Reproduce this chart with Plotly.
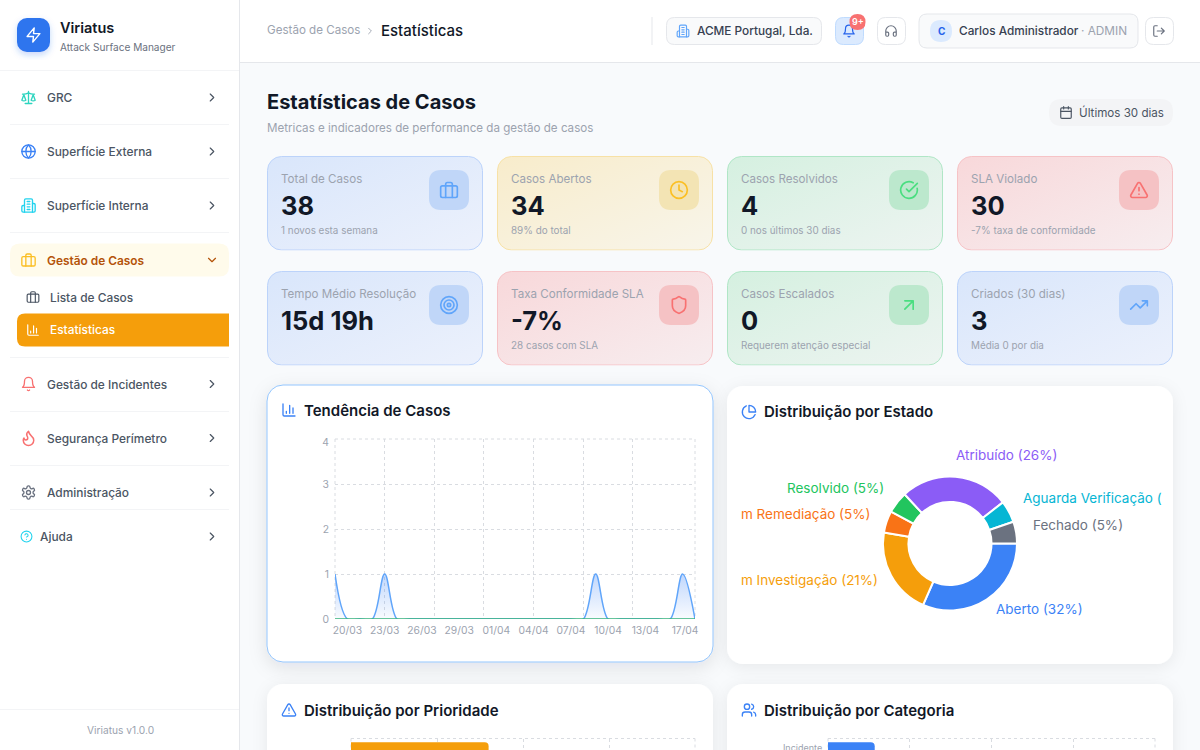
# plot.py - Viriatus "Estatísticas de Casos" dashboard page
import base64
import plotly.graph_objects as go

W, H = 1200, 750
FONT = "Inter"

# ---- data ----
trend_days = ["19/03", "20/03", "21/03", "22/03", "23/03", "24/03", "25/03", "26/03", "27/03", "28/03",
              "29/03", "30/03", "31/03", "01/04", "02/04", "03/04", "04/04", "05/04", "06/04", "07/04",
              "08/04", "09/04", "10/04", "11/04", "12/04", "13/04", "14/04", "15/04", "16/04", "17/04"]
created_counts = [1, 0, 0, 0, 1, 0, 0, 0, 0, 0, 0, 0, 0, 0, 0,
                  0, 0, 0, 0, 0, 0, 1, 0, 0, 0, 0, 0, 0, 1, 0]
resolved_counts = [0, 0, 0, 0, 0, 0, 0, 0, 0, 0, 0, 0, 0, 0, 0,
                   0, 0, 0, 0, 0, 0, 0, 0, 0, 0, 0, 0, 0, 0, 0]
trend_tick_labels = ["20/03", "23/03", "26/03", "29/03", "01/04", "04/04", "07/04", "10/04", "13/04", "17/04"]
count_tick_labels = ["0", "1", "2", "3", "4"]

status_labels = ["Aberto", "Em Investigação", "Em Remediação", "Resolvido",
                 "Atribuído", "Aguarda Verificação", "Fechado"]
status_values = [12, 8, 2, 2, 10, 2, 2]

priority_labels = ["Alta"]
priority_values = [8]
category_labels = ["Incidente"]
category_values = [4]

metric_titles = ["Total de Casos", "Casos Abertos", "Casos Resolvidos", "SLA Violado",
                 "Tempo Médio Resolução", "Taxa Conformidade SLA", "Casos Escalados", "Criados (30 dias)"]
metric_values = ["38", "34", "4", "30", "15d 19h", "-7%", "0", "3"]
metric_notes = ["1 novos esta semana", "89% do total", "0 nos últimos 30 dias", "-7% taxa de conformidade",
                "", "28 casos com SLA", "Requerem atenção especial", "Média 0 por dia"]

# ---- styles ----
STATUS_COLORS = ["#3b82f6", "#f59e0b", "#f97316", "#22c55e", "#8b5cf6", "#06b6d4", "#6b7280"]
THEMES = {
    "blue": dict(c0="#d9e6fb", c1="#ecf1fc", line="#bcd3fa", box="#c0d6f8", icon="#60a5fa"),
    "yellow": dict(c0="#f8eccb", c1="#f8f5ea", line="#f7e1a6", box="#f3e4b4", icon="#fbbf24"),
    "green": dict(c0="#d5f0e0", c1="#edf4f1", line="#b0e6c6", box="#bce8cd", icon="#4ade80"),
    "red": dict(c0="#f8d8da", c1="#f7edef", line="#f6c3c6", box="#f5c2c4", icon="#f87171"),
}
GRID = "#d9dce1"
INK = "#111827"
MUTED = "#9ca3af"
MENU = "#4b5563"

# lucide style icons, 24x24 viewbox
ICONS = {
    "scale": '<path d="m16 16 3-8 3 8c-.87.65-1.92 1-3 1s-2.13-.35-3-1Z"/><path d="m2 16 3-8 3 8c-.87.65-1.92 1-3 1s-2.13-.35-3-1Z"/><path d="M7 21h10M12 3v18M3 7h2c2 0 5-1 7-2 2 1 5 2 7 2h2"/>',
    "globe": '<circle cx="12" cy="12" r="10"/><path d="M12 2a14.5 14.5 0 0 0 0 20 14.5 14.5 0 0 0 0-20M2 12h20"/>',
    "building": '<path d="M6 22V4a2 2 0 0 1 2-2h8a2 2 0 0 1 2 2v18Z"/><path d="M6 12H4a2 2 0 0 0-2 2v6a2 2 0 0 0 2 2h2M18 9h2a2 2 0 0 1 2 2v9a2 2 0 0 1-2 2h-2M10 6h4M10 10h4M10 14h4M10 18h4"/>',
    "briefcase": '<rect x="2" y="7" width="20" height="14" rx="2"/><path d="M16 21V5a2 2 0 0 0-2-2h-4a2 2 0 0 0-2 2v16"/>',
    "chart": '<path d="M3 3v16a2 2 0 0 0 2 2h16M18 17V9M13 17V5M8 17v-3"/>',
    "bell": '<path d="M6 8a6 6 0 0 1 12 0c0 7 3 9 3 9H3s3-2 3-9"/><path d="M10.3 21a1.94 1.94 0 0 0 3.4 0"/>',
    "flame": '<path d="M8.5 14.5A2.5 2.5 0 0 0 11 12c0-1.38-.5-2-1-3-1.072-2.143-.224-4.054 2-6 .5 2.5 2 4.9 4 6.5 2 1.6 3 3.5 3 5.5a7 7 0 1 1-14 0c0-1.153.433-2.294 1-3a2.5 2.5 0 0 0 2.5 2.5z"/>',
    "gear": '<path d="M12.22 2h-.44a2 2 0 0 0-2 2v.18a2 2 0 0 1-1 1.73l-.43.25a2 2 0 0 1-2 0l-.15-.08a2 2 0 0 0-2.73.73l-.22.38a2 2 0 0 0 .73 2.73l.15.1a2 2 0 0 1 1 1.72v.51a2 2 0 0 1-1 1.74l-.15.09a2 2 0 0 0-.73 2.73l.22.38a2 2 0 0 0 2.73.73l.15-.08a2 2 0 0 1 2 0l.43.25a2 2 0 0 1 1 1.73V20a2 2 0 0 0 2 2h.44a2 2 0 0 0 2-2v-.18a2 2 0 0 1 1-1.73l.43-.25a2 2 0 0 1 2 0l.15.08a2 2 0 0 0 2.73-.73l.22-.39a2 2 0 0 0-.73-2.73l-.15-.08a2 2 0 0 1-1-1.74v-.5a2 2 0 0 1 1-1.74l.15-.09a2 2 0 0 0 .73-2.73l-.22-.38a2 2 0 0 0-2.73-.73l-.15.08a2 2 0 0 1-2 0l-.43-.25a2 2 0 0 1-1-1.73V4a2 2 0 0 0-2-2z"/><circle cx="12" cy="12" r="3"/>',
    "help": '<circle cx="12" cy="12" r="10"/><path d="M9.09 9a3 3 0 0 1 5.83 1c0 2-3 3-3 3M12 17h.01"/>',
    "right": '<path d="m9 18 6-6-6-6"/>',
    "down": '<path d="m6 9 6 6 6-6"/>',
    "zap": '<path d="M13 2 3 14h9l-1 8 10-12h-9l1-8z"/>',
    "headphones": '<path d="M3 14h3a2 2 0 0 1 2 2v3a2 2 0 0 1-2 2H5a2 2 0 0 1-2-2v-7a9 9 0 0 1 18 0v7a2 2 0 0 1-2 2h-1a2 2 0 0 1-2-2v-3a2 2 0 0 1 2-2h3"/>',
    "logout": '<path d="M9 21H5a2 2 0 0 1-2-2V5a2 2 0 0 1 2-2h4M16 17l5-5-5-5M21 12H9"/>',
    "calendar": '<path d="M8 2v4M16 2v4M3 10h18"/><rect x="3" y="4" width="18" height="18" rx="2"/>',
    "clock": '<circle cx="12" cy="12" r="10"/><path d="M12 6v6l4 2"/>',
    "check": '<path d="M21.801 10A10 10 0 1 1 17 3.335"/><path d="m9 11 3 3L22 4"/>',
    "alert": '<path d="m21.73 18-8-14a2 2 0 0 0-3.48 0l-8 14A2 2 0 0 0 4 21h16a2 2 0 0 0 1.73-3"/><path d="M12 9v4M12 17h.01"/>',
    "target": '<circle cx="12" cy="12" r="10"/><circle cx="12" cy="12" r="6"/><circle cx="12" cy="12" r="2"/>',
    "shield": '<path d="M20 13c0 5-3.5 7.5-7.66 8.95a1 1 0 0 1-.67-.01C7.5 20.5 4 18 4 13V6a1 1 0 0 1 1-1c2 0 4.5-1.2 6.24-2.72a1.17 1.17 0 0 1 1.52 0C14.51 3.81 17 5 19 5a1 1 0 0 1 1 1z"/>',
    "arrow": '<path d="M7 7h10v10M7 17 17 7"/>',
    "trend": '<path d="M22 7 13.5 15.5 8.5 10.5 2 17M16 7h6v6"/>',
    "pie": '<path d="M21.21 15.89A10 10 0 1 1 8 2.83"/><path d="M22 12A10 10 0 0 0 12 2v10z"/>',
    "users": '<path d="M16 21v-2a4 4 0 0 0-4-4H6a4 4 0 0 0-4 4v2"/><circle cx="9" cy="7" r="4"/><path d="M22 21v-2a4 4 0 0 0-3-3.87M16 3.13a4 4 0 0 1 0 7.75"/>',
}

shapes, images, notes = [], [], []


def px(x):
    return x / W


def py(y):
    return 1 - y / H


def add_rect(x0, y0, x1, y1, fill=None, line=None, r=0, layer="below", lw=1, rl=None):
    """rounded rectangle in screen pixels, rl overrides the right side radius"""
    rr = r if rl is None else rl
    pts = [
        f"M{px(x0 + r)},{py(y0)}", f"L{px(x1 - rr)},{py(y0)}",
        f"Q{px(x1)},{py(y0)} {px(x1)},{py(y0 + rr)}", f"L{px(x1)},{py(y1 - rr)}",
        f"Q{px(x1)},{py(y1)} {px(x1 - rr)},{py(y1)}", f"L{px(x0 + r)},{py(y1)}",
        f"Q{px(x0)},{py(y1)} {px(x0)},{py(y1 - r)}", f"L{px(x0)},{py(y0 + r)}",
        f"Q{px(x0)},{py(y0)} {px(x0 + r)},{py(y0)}Z",
    ]
    shapes.append(dict(type="path", path="".join(pts), xref="paper", yref="paper", layer=layer,
                       fillcolor=fill or "rgba(0,0,0,0)",
                       line=dict(color=line or "rgba(0,0,0,0)", width=lw if line else 0)))


def add_line(x0, y0, x1, y1, color, dash="solid"):
    shapes.append(dict(type="line", xref="paper", yref="paper", x0=px(x0), x1=px(x1), y0=py(y0), y1=py(y1),
                       layer="below", line=dict(color=color, width=1, dash=dash)))


def add_hline(x0, x1, y, color):
    add_line(x0, y, x1, y, color)


def add_vline(x, y0, y1, color):
    add_line(x, y0, x, y1, color)


def add_svg(x, y, w, h, body, layer="above"):
    svg = f'<svg xmlns="http://www.w3.org/2000/svg" width="{w}" height="{h}" viewBox="0 0 {w} {h}">{body}</svg>'
    src = "data:image/svg+xml;base64," + base64.b64encode(svg.encode()).decode()
    images.append(dict(source=src, xref="paper", yref="paper", x=px(x), y=py(y), sizex=w / W, sizey=h / H,
                       xanchor="left", yanchor="top", sizing="stretch", layer=layer))


def add_icon(name, cx, cy, size, color, sw=2):
    body = (f'<svg viewBox="0 0 24 24" width="{size}" height="{size}" fill="none" stroke="{color}" '
            f'stroke-width="{sw}" stroke-linecap="round" stroke-linejoin="round">{ICONS[name]}</svg>')
    add_svg(cx - size / 2, cy - size / 2, size, size, body)


def add_text(x, y, s, size=13, color=INK, weight=400, anchor="left"):
    notes.append(dict(x=px(x), y=py(y), xref="paper", yref="paper", text=s, showarrow=False,
                      xanchor=anchor, yanchor="middle", borderpad=0, borderwidth=0,
                      font=dict(family=FONT, size=size, color=color, weight=weight)))


def add_metric_card(x0, y0, x1, y1, theme, r=14):
    t = THEMES[theme]
    w, h = x1 - x0, y1 - y0
    body = (f'<defs><linearGradient id="g" x1="0" y1="0" x2="1" y2="1"><stop offset="0" stop-color="{t["c0"]}"/>'
            f'<stop offset="1" stop-color="{t["c1"]}"/></linearGradient></defs>'
            f'<rect x="0.5" y="0.5" width="{w - 1}" height="{h - 1}" rx="{r}" fill="url(#g)" stroke="{t["line"]}"/>')
    add_svg(x0, y0, w, h, body, layer="below")


def add_white_card(x0, y0, x1, y1, border=None, blur=8, dy=3, alpha=0.07, r=16):
    pad = 30
    w, h = x1 - x0, y1 - y0
    stroke = f'stroke="{border}"' if border else ""
    body = (f'<defs><filter id="s" x="-20%" y="-20%" width="140%" height="140%"><feDropShadow dx="0" dy="{dy}" '
            f'stdDeviation="{blur}" flood-color="#111827" flood-opacity="{alpha}"/></filter></defs>'
            f'<rect x="{pad}" y="{pad}" width="{w}" height="{h}" rx="{r}" fill="#ffffff" {stroke} filter="url(#s)"/>')
    add_svg(x0 - pad, y0 - pad, w + 2 * pad, h + 2 * pad, body, layer="below")


# ---- page frame ----
add_rect(0, 0, 239.5, H, fill="#ffffff")
add_rect(240, 0, W, 62, fill="#ffffff")
add_hline(240, W, 62.5, "#e5e7eb")
add_vline(239.5, 0, H, "#e5e7eb")
add_hline(0, 239, 70.5, "#f3f4f6")
add_hline(0, 239, 709.5, "#f3f4f6")

# ---- sidebar ----
add_svg(9, 10, 50, 50, '<defs><filter id="s" x="-30%" y="-30%" width="160%" height="170%"><feDropShadow dx="0" dy="3" '
        'stdDeviation="3" flood-color="#2563eb" flood-opacity="0.25"/></filter></defs>'
        '<rect x="8" y="8" width="33" height="34" rx="10" fill="#2f74ee" filter="url(#s)"/>')
add_icon("zap", 33.5, 35, 17, "#ffffff")
add_text(60, 28, "Viriatus", 14.5, INK, 600)
add_text(60, 46.5, "Attack Surface Manager", 10.1, "#6b7280")

for y in [124.5, 178.5, 232.5, 357.5, 411.5, 465.5, 509.5]:
    add_hline(10, 229, y, "#f3f4f6")

menu_items = ["GRC", "Superfície Externa", "Superfície Interna", "Gestão de Incidentes",
              "Segurança Perímetro", "Administração"]
menu_rows = [97.5, 151.5, 205.5, 384, 438, 492.5]
menu_icons = [("scale", "#2dd4bf", 16), ("globe", "#3b82f6", 16), ("building", "#22d3ee", 16),
              ("bell", "#f87171", 16), ("flame", "#f87171", 18), ("gear", "#6b7280", 16)]
for label, y, (icon, color, size) in zip(menu_items, menu_rows, menu_icons):
    add_icon(icon, 28.5, y, size, color)
    add_text(47, y, label, 11.9, MENU, 500)
    add_icon("right", 212, y, 14, "#4b5563")

add_rect(10, 243.5, 229, 276.5, fill="#fffbeb", r=10)
add_icon("briefcase", 28.5, 260, 16, "#fbbf24")
add_text(47, 260, "Gestão de Casos", 11.9, "#b45309", 600)
add_icon("down", 212, 260, 14, "#b45309")
add_icon("briefcase", 33, 297, 14, "#4b5563")
add_text(50, 297, "Lista de Casos", 11.9, MENU, 500)
add_rect(17, 313.5, 229, 346.5, fill="#f59e0b", r=8, rl=0)
add_icon("chart", 33, 330, 14, "#ffffff")
add_text(50, 330, "Estatísticas", 11.9, "#ffffff", 500)
add_icon("help", 26.5, 536.5, 13, "#22d3ee")
add_text(40, 536.5, "Ajuda", 11.9, MENU, 500)
add_icon("right", 212, 536.5, 14, "#4b5563")
add_text(120, 730, "Viriatus v1.0.0", 10.2, MUTED, 400, "center")

# ---- top bar ----
add_text(267, 30.5, "Gestão de Casos", 11.6, MUTED)
add_icon("right", 370, 31, 11, MUTED)
add_text(381, 30.5, "Estatísticas", 15, INK, 500)
add_vline(652, 17, 45, "#e5e7eb")
add_rect(666.5, 17.5, 821.5, 44.5, fill="#f9fafb", line="#e5e7eb", r=8)
add_icon("building", 683, 31, 14, "#60a5fa")
add_text(697, 31, "ACME Portugal, Lda.", 11.8, "#374151", 500)
add_rect(835.5, 17.5, 863.5, 44.5, fill="#dbeafe", line="#bfdbfe", r=8)
add_icon("bell", 849, 31, 14, "#2563eb")
add_rect(849.5, 14, 865.5, 30, fill="#f87171", r=8, layer="above")
add_text(857.5, 22, "9+", 9, "#ffffff", 600, "center")
add_rect(877.5, 17.5, 905.5, 44.5, fill="#ffffff", line="#e5e7eb", r=8)
add_icon("headphones", 891, 31, 14, "#6b7280")
add_rect(919, 14, 1138, 48, fill="#f9fafb", line="#e5e7eb", r=8)
add_rect(930, 20, 952, 42, fill="#dbeafe", r=11)
add_text(941, 31, "C", 10, "#2563eb", 700, "center")
add_text(959, 31, "Carlos Administrador", 11.8, "#374151", 500)
add_text(1081, 31, "· ADMIN", 11.8, MUTED)
add_rect(1145.5, 17.5, 1173.5, 44.5, fill="#ffffff", line="#e5e7eb", r=8)
add_icon("logout", 1159, 31, 14, "#6b7280")

# ---- page heading ----
add_text(267, 102, "Estatísticas de Casos", 20, INK, 700)
add_text(267, 127.5, "Metricas e indicadores de performance da gestão de casos", 11.6, MUTED)
add_rect(1049, 99, 1173, 126, fill="#f3f4f6", r=13)
add_icon("calendar", 1066, 112.5, 14, "#4b5563")
add_text(1079, 112.5, "Últimos 30 dias", 11.6, MENU)

# ---- metric cards ----
card_cols = [267, 497, 727, 957]
card_rows = [156, 271]
card_themes = ["blue", "yellow", "green", "red", "blue", "red", "green", "blue"]
card_icons = ["briefcase", "clock", "check", "alert", "target", "shield", "arrow", "trend"]
for i, title in enumerate(metric_titles):
    x0, y0 = card_cols[i % 4], card_rows[i // 4]
    theme = THEMES[card_themes[i]]
    add_metric_card(x0, y0, x0 + 216, y0 + 94.5, card_themes[i])
    add_rect(x0 + 162, y0 + 14, x0 + 202, y0 + 54, fill=theme["box"], r=12)
    add_icon(card_icons[i], x0 + 182, y0 + 34, 20, theme["icon"])
    add_text(x0 + 14, y0 + 22.5, title, 11.6, MUTED)
    add_text(x0 + 14, y0 + 49.5, metric_values[i], 25.5, INK, 700)
    add_text(x0 + 14, y0 + 74, metric_notes[i], 9.9, MUTED)

# ---- chart cards ----
add_white_card(267, 385, 713, 662, border="#93c5fd", blur=9, dy=5, alpha=0.10)
add_white_card(727, 386, 1173, 664)
add_white_card(267, 684, 713, 960)
add_white_card(727, 684, 1173, 960)
add_icon("chart", 289, 410, 16, "#3b82f6")
add_text(304, 410, "Tendência de Casos", 15, INK, 600)
add_icon("pie", 749, 412, 16, "#3b82f6")
add_text(764, 411.5, "Distribuição por Estado", 15, INK, 600)
add_icon("alert", 289, 710, 16, "#3b82f6")
add_text(304, 710, "Distribuição por Prioridade", 15, INK, 600)
add_icon("users", 749, 710, 16, "#3b82f6")
add_text(764, 710, "Distribuição por Categoria", 15, INK, 600)

# plotly drops gridlines sitting on the plot edge, so the outer frame is drawn here
DOT = "3px,3px"
for x0, y0, x1, y1 in [(335, 439, 695, 619), (351, 738.5, 695, 750), (828, 738.5, 1155, 750)]:
    add_line(x0, y0, x1, y0, GRID, DOT)
    add_line(x0, y0, x0, y1, GRID, DOT)
    add_line(x1, y0, x1, y1, GRID, DOT)

# donut labels sit outside the ring, the two long ones are cut by the card edge in the page
pct = [round(v * 100 / sum(status_values)) for v in status_values]
donut_text = [f"{l} ({p}%)" for l, p in zip(status_labels, pct)]
donut_text[1] = donut_text[1][1:]
donut_text[2] = donut_text[2][1:]
donut_text[5] = donut_text[5].split("(")[0] + "("
donut_pos = [(996, 608.5, "left"), (878, 580, "right"), (870, 513.5, "right"), (884, 488, "right"),
             (1006.5, 455, "center"), (1022.5, 497.5, "left"), (1032.5, 525, "left")]
for s, (x, y, a), c in zip(donut_text, donut_pos, STATUS_COLORS):
    add_text(x, y, s, 13.5, c, 400, a)

fig = go.Figure()

# trend chart: the axes on x/y carry the dotted grid, x2/y2 carry the tick labels
x_idx = list(range(len(trend_days)))
fig.add_trace(go.Scatter(x=x_idx, y=created_counts, mode="lines", name="Criados",
                         text=trend_days, line=dict(color="#60a5fa", width=1.5, shape="spline", smoothing=1),
                         fill="tozeroy", fillcolor="rgba(59,130,246,0.15)",
                         fillgradient=dict(type="vertical",
                                           colorscale=[[0, "rgba(59,130,246,0.02)"], [1, "rgba(59,130,246,0.32)"]]),
                         xaxis="x", yaxis="y"))
fig.add_trace(go.Scatter(x=x_idx, y=resolved_counts, mode="lines", name="Resolvidos",
                         text=trend_days, line=dict(color="#34b27b", width=1.5), cliponaxis=False,
                         xaxis="x2", yaxis="y2"))

fig.add_trace(go.Pie(labels=status_labels, values=status_values, hole=0.62, sort=False, direction="clockwise",
                     rotation=90, textinfo="none", showlegend=False,
                     marker=dict(colors=STATUS_COLORS, line=dict(color="#ffffff", width=2)),
                     domain=dict(x=[px(883), px(1017)], y=[py(610.5), py(476.5)])))

fig.add_trace(go.Bar(x=priority_values, y=[0], orientation="h", width=1, name=priority_labels[0],
                     marker=dict(color="#f59e0b", line=dict(width=0)), xaxis="x3", yaxis="y3"))
fig.add_trace(go.Bar(x=category_values, y=[0], orientation="h", width=1, name=category_labels[0],
                     marker=dict(color="#3b82f6", line=dict(width=0)), xaxis="x4", yaxis="y4"))

grid_style = dict(showgrid=True, gridcolor=GRID, griddash=DOT, gridwidth=1, zeroline=False, showline=False)
label_font = dict(family=FONT, size=10.3, color=MUTED)
trend_x = [px(335), px(695)]
trend_y = [py(619), py(439)]
bar_y = [py(750), py(738.5)]
bar_range = [0.3075, 0.595]  # only the top of the first bar is on screen

fig.update_layout(
    width=W, height=H, margin=dict(l=0, r=0, t=0, b=0, autoexpand=False), autosize=False,
    paper_bgcolor="#f8fafc", plot_bgcolor="rgba(0,0,0,0)", showlegend=False,
    font=dict(family=FONT), barcornerradius=4,
    shapes=shapes, images=images, annotations=notes,
    xaxis=dict(domain=trend_x, range=[0, 29], tickvals=[0, 4, 8, 12, 16, 20, 24, 29],
               showticklabels=False, ticks="", anchor="y", **grid_style),
    yaxis=dict(domain=trend_y, range=[0, 4], tickvals=[0, 1, 2, 3, 4],
               showticklabels=False, ticks="", anchor="x", **grid_style),
    xaxis2=dict(range=[0, 29], overlaying="x", anchor="y2", showgrid=False, zeroline=False,
                tickvals=[1, 4, 7, 10, 13, 16, 19, 22, 25, 28.2], ticktext=trend_tick_labels,
                tickfont=label_font, ticks="outside", ticklen=2, tickcolor="rgba(0,0,0,0)"),
    yaxis2=dict(range=[0, 4], overlaying="y", anchor="x2", showgrid=False, zeroline=False,
                tickvals=[0, 1, 2, 3, 3.93], ticktext=count_tick_labels,
                tickfont=label_font, ticks="outside", ticklen=3, tickcolor="rgba(0,0,0,0)"),
    xaxis3=dict(domain=[px(351), px(695)], range=[0, 20], tickvals=[0, 5, 10, 15, 20],
                showticklabels=False, ticks="", anchor="y3", **grid_style),
    yaxis3=dict(domain=bar_y, range=bar_range, showticklabels=False, ticks="", showgrid=False,
                zeroline=False, showline=False, anchor="x3"),
    xaxis4=dict(domain=[px(828), px(1155)], range=[0, 28], tickvals=[0, 7, 14, 21, 28],
                showticklabels=False, ticks="", anchor="y4", **grid_style),
    yaxis4=dict(domain=bar_y, range=bar_range, tickvals=[0.37], ticktext=category_labels,
                tickfont=dict(family=FONT, size=9, color=MUTED), ticks="outside", ticklen=3,
                ticklabeloverflow="allow", tickcolor="rgba(0,0,0,0)", anchor="x4",
                showgrid=False, zeroline=False, showline=False),
)

fig.write_html("out.html", config=dict(displayModeBar=False),
               post_script="document.body.style.margin='0';document.body.style.overflow='hidden';")
